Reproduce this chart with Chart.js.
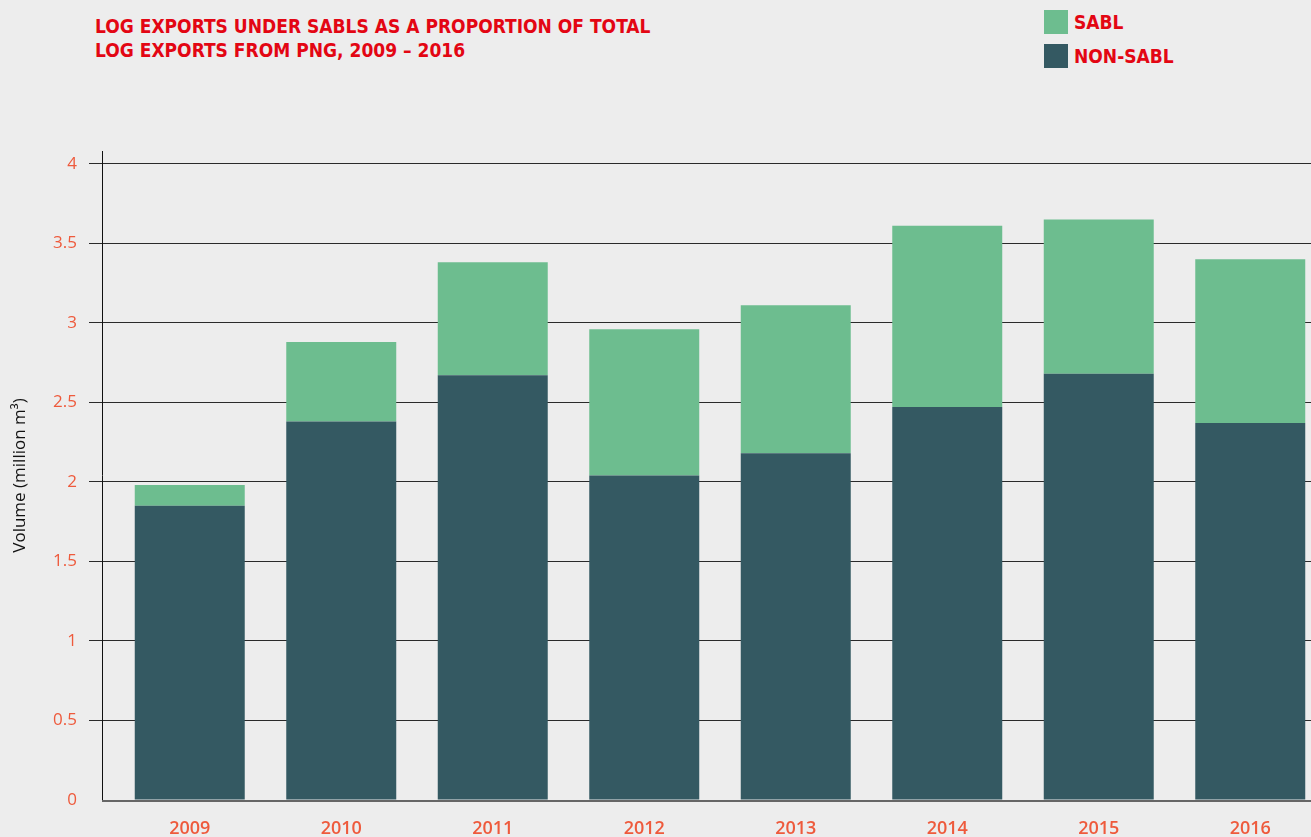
<!DOCTYPE html>
<html>
<head>
<meta charset="utf-8">
<script src="https://cdn.jsdelivr.net/npm/chart.js@4/dist/chart.umd.min.js"></script>
<style>
    html, body { margin: 0; padding: 0; background: #ededed; overflow: hidden; width: 1311px; height: 837px; }
    .title {
        position: absolute; left: 95px; top: 14px;
        font-family: "DejaVu Sans Condensed", "Roboto", sans-serif;
        font-weight: bold; font-size: 19px; line-height: 24px; color: #e30613;
    }
    .legend { position: absolute; left: 1044px; top: 10px; }
    .legend-row { display: flex; align-items: center; height: 24px; margin-bottom: 10px; }
    .legend-box { width: 24px; height: 24px; margin-right: 6px; }
    .legend-label {
        font-family: "DejaVu Sans Condensed", "Roboto", sans-serif;
        font-weight: bold; font-size: 19px; color: #e30613;
    }
    #wrap { position: absolute; left: 0; top: 0; width: 1330px; height: 837px; }
</style>
</head>
<body>
<div class="title">LOG EXPORTS UNDER SABLS AS A PROPORTION OF TOTAL<br>LOG EXPORTS FROM PNG, 2009 – 2016</div>
<div class="legend" id="legend"></div>
<div id="wrap"><canvas id="chart"></canvas></div>
<script>
// ─── Data ─────────────────────────────────────────────────────────────────────
const YEARS = ["2009", "2010", "2011", "2012", "2013", "2014", "2015", "2016"];
const NON_SABL = [1.85, 2.38, 2.67, 2.04, 2.18, 2.47, 2.68, 2.37];
const SABL = [0.13, 0.50, 0.71, 0.92, 0.93, 1.14, 0.97, 1.03];
const Y_TICKS = [0, 0.5, 1, 1.5, 2, 2.5, 3, 3.5, 4];

const COLOR_SABL = "#6dbd8f";
const COLOR_NON_SABL = "#345962";
const TICK_COLOR = "#ee5a3c";

// ─── Legend (HTML) ────────────────────────────────────────────────────────────
const legend = document.getElementById("legend");
[["SABL", COLOR_SABL], ["NON-SABL", COLOR_NON_SABL]].forEach(([label, color]) => {
    const row = document.createElement("div");
    row.className = "legend-row";
    const box = document.createElement("div");
    box.className = "legend-box";
    box.style.background = color;
    const txt = document.createElement("span");
    txt.className = "legend-label";
    txt.textContent = label;
    row.appendChild(box);
    row.appendChild(txt);
    legend.appendChild(row);
});

// y axis line sits a bit left of the first category, plus the grey base line
const axisLines = {
    id: "axisLines",
    afterDatasetsDraw(chart) {
        const { ctx, chartArea, scales } = chart;
        const x0 = chartArea.left - 12;
        const y0 = scales.y.getPixelForValue(0);
        ctx.save();
        ctx.strokeStyle = "#111";
        ctx.lineWidth = 1;
        ctx.beginPath();
        ctx.moveTo(x0 + 0.5, chartArea.top);
        ctx.lineTo(x0 + 0.5, y0);
        ctx.stroke();
        ctx.strokeStyle = "#666";
        ctx.lineWidth = 2;
        ctx.beginPath();
        ctx.moveTo(x0, y0 + 1);
        ctx.lineTo(chartArea.right, y0 + 1);
        ctx.stroke();
        ctx.restore();
    },
};

// ─── Chart ────────────────────────────────────────────────────────────────────
new Chart(document.getElementById("chart"), {
    type: "bar",
    data: {
        labels: YEARS,
        datasets: [
            { label: "NON-SABL", data: NON_SABL, backgroundColor: COLOR_NON_SABL, barPercentage: 0.726, categoryPercentage: 1 },
            { label: "SABL", data: SABL, backgroundColor: COLOR_SABL, barPercentage: 0.726, categoryPercentage: 1 },
        ],
    },
    options: {
        responsive: true,
        maintainAspectRatio: false,
        animation: false,
        layout: { padding: { top: 151, right: 4, left: 0, bottom: 0 } },
        plugins: { legend: { display: false }, tooltip: { enabled: false } },
        scales: {
            x: {
                stacked: true,
                grid: { display: false, drawTicks: false },
                border: { display: false },
                ticks: { color: TICK_COLOR, font: { family: "'Open Sans', sans-serif", size: 18, weight: "600" }, padding: 18 },
                afterFit: (s) => { s.height = 37; },
            },
            y: {
                stacked: true,
                min: 0,
                max: 4.08,
                afterBuildTicks: (s) => { s.ticks = Y_TICKS.map((v) => ({ value: v })); },
                grid: {
                    color: (ctx) => (ctx.tick && ctx.tick.value === 0 ? "rgba(0,0,0,0)" : "#2a2a2a"),
                    lineWidth: 1,
                    tickLength: 25,
                },
                border: { display: false },
                ticks: {
                    color: TICK_COLOR,
                    font: { family: "'Open Sans', sans-serif", size: 17, weight: "500" },
                    padding: 12,
                    callback: (v) => String(v),
                },
                title: {
                    display: true,
                    text: "Volume (million m³)",
                    color: "#111",
                    font: { family: "'Open Sans', sans-serif", size: 17 },
                    padding: { top: 10, bottom: 0 },
                },
                afterFit: (s) => { s.width = 114; },
            },
        },
    },
    plugins: [axisLines],
});
</script>
</body>
</html>
